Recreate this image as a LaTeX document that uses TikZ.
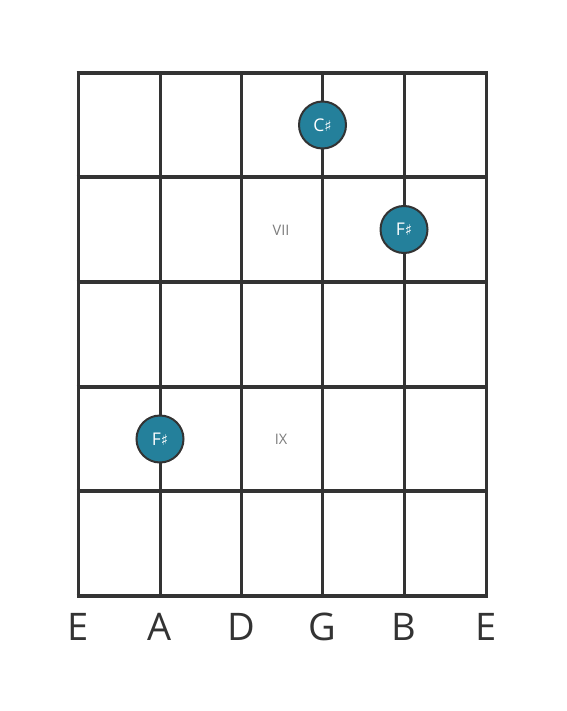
\documentclass[tikz,border=0pt]{standalone}
\usepackage{fontspec}
\setmainfont{Open Sans}
\newfontfamily\symfont{DejaVu Sans}
\definecolor{gridc}{RGB}{51,51,51}
\definecolor{notec}{RGB}{36,128,155}
\definecolor{fretc}{RGB}{125,125,125}
\begin{document}
\begin{tikzpicture}[x=1pt,y=-1pt,
  fretline/.style={draw=gridc,line width=4.3pt},
  stringline/.style={draw=gridc,line width=3pt},
  note/.style={circle,fill=notec,draw=gridc,line width=2pt,minimum size=47pt,inner sep=0pt,text=white,font=\fontsize{17.5}{17.5}\selectfont},
  fretlabel/.style={text=fretc,font=\fontsize{14.5}{14.5}\selectfont},
  stringlabel/.style={text=gridc,font=\fontsize{38}{38}\selectfont}]
\useasboundingbox (0,0) rectangle (566,711);
\fill[white] (0,0) rectangle (566,711);
% strings
\foreach \x/\n in {78/s1,160/s2,241.5/s3,322.5/s4,404/s5,486/s6}{
  \coordinate (\n t) at (\x,72.7);
  \coordinate (\n b) at (\x,596);
  \draw[stringline] (\n t) -- (\n b);
}
% frets
\foreach \y/\n in {72.7/f0,177.3/f1,282/f2,386.7/f3,491.3/f4,596/f5}{
  \coordinate (\n l) at (76.5,\y);
  \coordinate (\n r) at (487.5,\y);
  \draw[fretline] (\n l) -- (\n r);
}
% fret labels
\node[fretlabel] (vii) at (281,230) {VII};
\node[fretlabel] (ix) at (281,439) {IX};
% notes
\node[note] (n1) at (322.5,125) {C{\symfont\fontsize{15}{15}\selectfont ♯}};
\node[note] (n2) at (404,229.5) {F{\symfont\fontsize{15}{15}\selectfont ♯}};
\node[note] (n3) at (160,439) {F{\symfont\fontsize{15}{15}\selectfont ♯}};
% string labels
\foreach \x/\t/\n in {78/E/l1,160/A/l2,241.5/D/l3,322.5/G/l4,404/B/l5,486/E/l6}{
  \node[stringlabel] (\n) at (\x,627) {\t};
}
\end{tikzpicture}
\end{document}
